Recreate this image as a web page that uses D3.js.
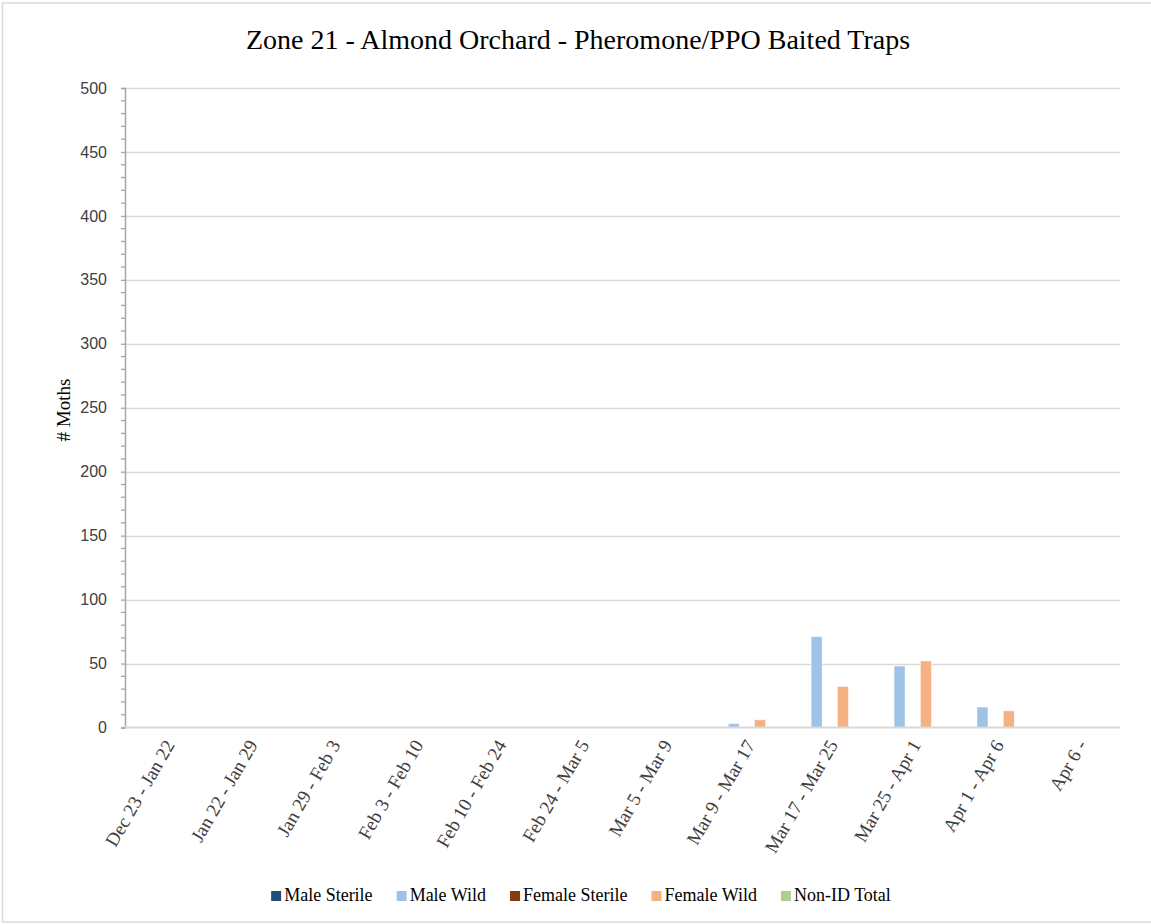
<!DOCTYPE html>
<html>
<head>
<meta charset="utf-8">
<script src="https://cdn.jsdelivr.net/npm/d3@7"></script>
<style>
  html, body { margin: 0; padding: 0; background: #fff; }
  svg { display: block; }
</style>
</head>
<body>
<svg id="chart" width="1151" height="924"></svg>
<script>
const categories = ["Dec 23 - Jan 22", "Jan 22 - Jan 29", "Jan 29 - Feb 3", "Feb 3 - Feb 10", "Feb 10 - Feb 24", "Feb 24 - Mar 5", "Mar 5 - Mar 9", "Mar 9 - Mar 17", "Mar 17 - Mar 25", "Mar 25 - Apr 1", "Apr 1 - Apr 6", "Apr 6 -"];
const seriesNames = ["Male Sterile", "Male Wild", "Female Sterile", "Female Wild", "Non-ID Total"];
const maleSterile   = [0, 0, 0, 0, 0, 0, 0, 0, 0, 0, 0, 0];
const maleWild      = [0, 0, 0, 0, 0, 0, 0, 3, 71, 48, 16, 0];
const femaleSterile = [0, 0, 0, 0, 0, 0, 0, 0, 0, 0, 0, 0];
const femaleWild    = [0, 0, 0, 0, 0, 0, 0, 6, 32, 52, 13, 0];
const nonIdTotal    = [0, 0, 0, 0, 0, 0, 0, 0, 0, 0, 0, 0];
const yTicks = [0, 50, 100, 150, 200, 250, 300, 350, 400, 450, 500];
const seriesColors = ["#1f4e79", "#9dc3e6", "#843c0c", "#f4b183", "#a9d18e"];
const titleText = "Zone 21 - Almond Orchard - Pheromone/PPO Baited Traps";
const yLabel = "# Moths";

const seriesValues = [maleSterile, maleWild, femaleSterile, femaleWild, nonIdTotal];

const svg = d3.select("#chart");
const plot = { left: 125, right: 1120, top: 88, bottom: 727.5 };

// outer border
svg.append("rect").attr("x", 2.5).attr("y", 3).attr("width", 1160).attr("height", 919)
  .attr("fill", "none").attr("stroke", "#d9d9d9").attr("stroke-width", 1.5);

const serif = "'Liberation Serif', 'Times New Roman', serif";
const sans = "'Liberation Sans', Arial, sans-serif";

// title
svg.append("text").attr("x", 578).attr("y", 49).attr("text-anchor", "middle")
  .attr("font-family", serif).attr("font-size", 28).attr("fill", "#000")
  .text(titleText);

const y = d3.scaleLinear().domain([0, 500]).range([plot.bottom, plot.top]);
const x0 = d3.scaleBand().domain(categories).range([plot.left, plot.right]).paddingInner(0.234).paddingOuter(0.117);
const x1 = d3.scaleBand().domain(seriesNames).range([0, x0.bandwidth()]).paddingInner(0.17);

// gridlines
svg.append("g").selectAll("line").data(yTicks.filter(d => d > 0)).join("line")
  .attr("x1", plot.left).attr("x2", plot.right)
  .attr("y1", d => Math.round(y(d)) + 0.5).attr("y2", d => Math.round(y(d)) + 0.5)
  .attr("stroke", "#d9d9d9").attr("stroke-width", 1.3);

// y axis
const yAxis = d3.axisLeft(y).tickValues(yTicks).tickSize(4).tickPadding(14).tickFormat(d3.format("d"));
const ga = svg.append("g").attr("transform", `translate(${plot.left},0)`).call(yAxis);
ga.select(".domain").attr("stroke", "#a6a6a6").attr("stroke-width", 1.5);
ga.selectAll(".tick line").attr("stroke", "#a6a6a6").attr("stroke-width", 1.3);
ga.selectAll(".tick text").attr("font-family", sans).attr("font-size", 16).attr("fill", "#404040");

// minor ticks
const minor = d3.range(0, 501, 10).filter(d => d % 50 !== 0);
svg.append("g").selectAll("line").data(minor).join("line")
  .attr("x1", plot.left - 4).attr("x2", plot.left)
  .attr("y1", d => y(d)).attr("y2", d => y(d))
  .attr("stroke", "#a6a6a6").attr("stroke-width", 1.3);

// bars
const bars = svg.append("g");
seriesNames.forEach((name, si) => {
  bars.append("g").selectAll("rect").data(seriesValues[si]).join("rect")
    .attr("x", (d, i) => x0(categories[i]) + x1(name))
    .attr("width", x1.bandwidth())
    .attr("y", d => y(d))
    .attr("height", d => y(0) - y(d))
    .attr("fill", seriesColors[si])
    .attr("stroke", "#ffffff").attr("stroke-opacity", 0.5).attr("stroke-width", 0.8);
});

// baseline
svg.append("line").attr("x1", plot.left).attr("x2", plot.right)
  .attr("y1", y(0)).attr("y2", y(0)).attr("stroke", "#d9d9d9").attr("stroke-width", 2);

// x labels
svg.append("g").selectAll("text").data(categories).join("text")
  .attr("transform", d => `translate(${x0(d) + x0.bandwidth() / 2 + 3},${plot.bottom + 14}) rotate(-60)`)
  .attr("text-anchor", "end").attr("dy", "0.35em")
  .attr("font-family", serif).attr("font-size", 19).attr("fill", "#404040")
  .text(d => d);

// y label
svg.append("text").attr("transform", `translate(70,410) rotate(-90)`)
  .attr("text-anchor", "middle").attr("font-family", serif).attr("font-size", 19).attr("fill", "#000")
  .text(yLabel);

// legend
const legend = svg.append("g");
const items = legend.selectAll("g").data(seriesNames).join("g");
items.append("rect").attr("width", 10).attr("height", 10).attr("y", -10)
  .attr("fill", (d, i) => seriesColors[i]);
items.append("text").attr("x", 13).attr("y", 0).attr("font-family", serif).attr("font-size", 18)
  .attr("fill", "#000").text(d => d);
let cx = 0;
const positions = [];
items.each(function () {
  const tw = d3.select(this).select("text").node().getComputedTextLength();
  positions.push(cx);
  cx += 13 + tw + 24;
});
const total = cx - 24;
const startX = 581 - total / 2;
items.attr("transform", (d, i) => `translate(${startX + positions[i]},901)`);
</script>
</body>
</html>
